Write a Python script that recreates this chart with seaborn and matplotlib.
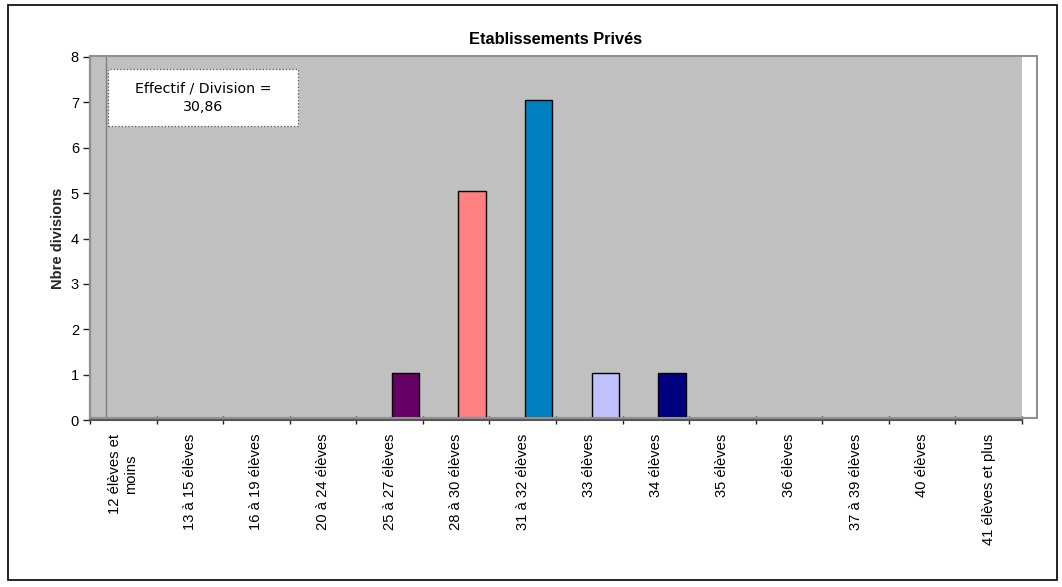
import numpy as np
import pandas as pd
import matplotlib
matplotlib.use("Agg")
import matplotlib.pyplot as plt
import matplotlib.transforms as mtransforms
from matplotlib.patches import Rectangle
import seaborn as sns

# %%
# donnees
categories = ["12 élèves et\nmoins", "13 à 15 élèves", "16 à 19 élèves", "20 à 24 élèves",
              "25 à 27 élèves", "28 à 30 élèves", "31 à 32 élèves", "33 élèves",
              "34 élèves", "35 élèves", "36 élèves", "37 à 39 élèves", "40 élèves",
              "41 élèves et plus"]
divisions = [0, 0, 0, 0, 1, 5, 7, 1, 1, 0, 0, 0, 0, 0]
couleurs = ["#660066", "#660066", "#660066", "#660066", "#660066", "#FF8080", "#0080C0",
            "#C0C0FF", "#000080", "#000080", "#000080", "#000080", "#000080", "#000080"]

df = pd.DataFrame({"classe": categories, "nb": divisions})

# %%
sns.set_style("white")
plt.rcParams["font.family"] = ["Liberation Sans", "DejaVu Sans"]
plt.rcParams["text.color"] = "black"
plt.rcParams["xtick.color"] = "black"
plt.rcParams["ytick.color"] = "black"

W, H = 1062, 587
fig = plt.figure(figsize=(W / 100, H / 100), dpi=100)

# cadre de la zone de trace (paroi + cote droit)
fig.patches.append(Rectangle((90 / W, 1 - 418 / H), 947 / W, 362 / H,
                             transform=fig.transFigure, fill=False, ec="#909090", lw=1.5))

ax = fig.add_axes([90 / W, 1 - 420 / H, 932 / W, 363 / H])
ax.set_facecolor("#C0C0C0")

sns.barplot(data=df, x="classe", y="nb", hue="classe", palette=couleurs, saturation=1,
            legend=False, width=0.41, edgecolor="black", linewidth=1, ax=ax)

# decalage 3D des barres (paroi du fond)
shift = mtransforms.offset_copy(ax.transData, fig=fig, x=16, y=2, units="dots")
for p in ax.patches:
    if p.get_height() == 0:
        p.set_visible(False)
    p.set_transform(shift)

ax.set_xlim(-0.5, len(categories) - 0.5)
ax.set_ylim(0, 8)
ax.set_yticks(range(0, 9))
ax.set_xticks(np.arange(len(categories) + 1) - 0.5, minor=False)
ax.set_xticklabels([""] * (len(categories) + 1))
ax.set_xticks(np.arange(len(categories)), minor=True)
ax.set_xticklabels(categories, minor=True, rotation=90, fontsize=10.6,
                   va="top", ha="center", multialignment="center")
ax.tick_params(axis="x", which="minor", length=0, pad=10)
ax.tick_params(axis="x", which="major", length=6, width=1, direction="inout", color="#222222")
ax.tick_params(axis="y", length=5, width=1, direction="out", color="#222222", labelsize=10.5, pad=3)
ax.tick_params(left=True, bottom=True)

for s in ["top", "right"]:
    ax.spines[s].set_visible(False)
ax.spines["left"].set_color("#555555")
ax.spines["bottom"].set_color("#555555")
ax.spines["left"].set_linewidth(1.5)
ax.spines["bottom"].set_linewidth(1.5)

# ligne de la paroi laterale
ax.axvline(-0.5 + 16 / 66.57, color="#808080", lw=1)

ax.set_xlabel("")
ax.set_ylabel("Nbre divisions", fontsize=10.5, fontweight="bold", labelpad=4)
ax.set_title("Etablissements Privés", fontsize=11.8, fontweight="bold", pad=9)

# boite de texte
box = Rectangle(((108 - 90) / 932, (420 - 126) / 363), 190 / 932, 57 / 363,
                transform=ax.transAxes, fc="white", ec="#555555", ls=":", lw=0.9, zorder=5)
ax.add_patch(box)
ax.text((203 - 90) / 932, (420 - 97.5) / 363, "Effectif / Division =\n30,86", transform=ax.transAxes,
        ha="center", va="center", fontsize=10.2, family=["DejaVu Sans"], linespacing=1.45, zorder=6)

# cadre du graphique
fig.patches.append(Rectangle((8 / W, 1 - 580 / H), 1049 / W, 575 / H,
                             transform=fig.transFigure, fill=False, ec="black", lw=1.2))

fig.savefig("out.png", dpi=100)
